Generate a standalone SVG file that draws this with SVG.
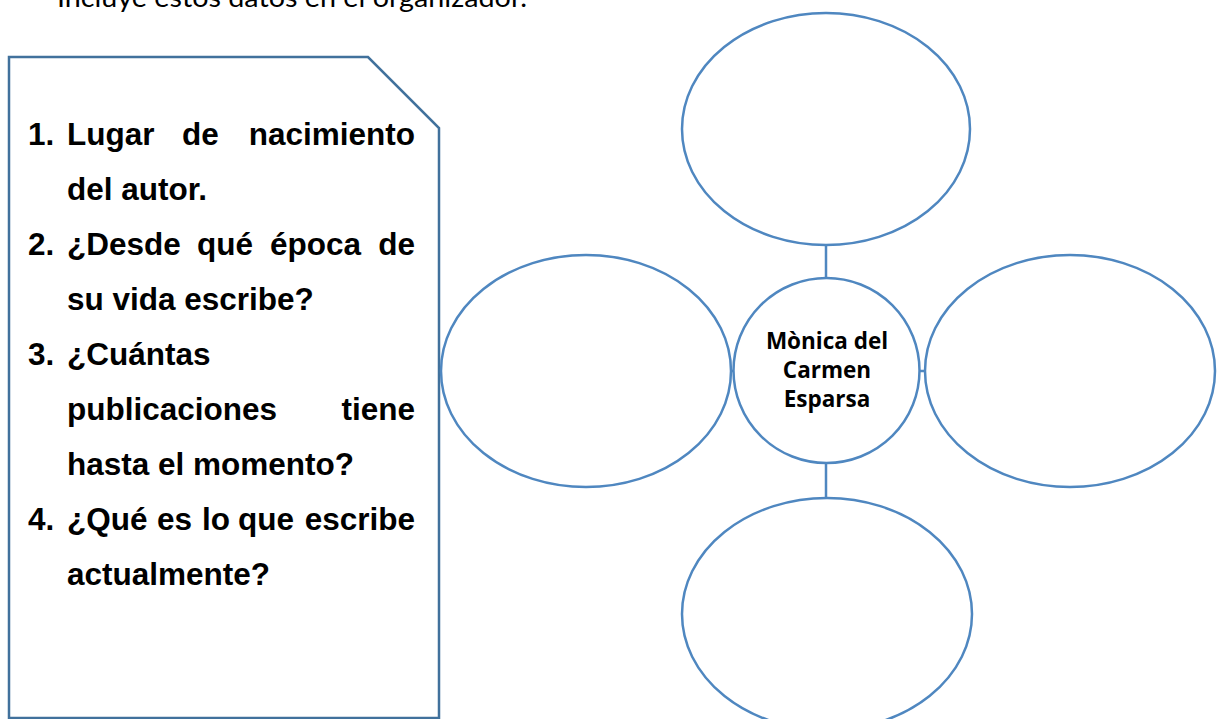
<svg xmlns="http://www.w3.org/2000/svg" width="1221" height="719" viewBox="0 0 1221 719">
<style>
.q{font-family:"Liberation Sans",Arial,sans-serif;font-weight:bold;font-size:31.5px;fill:#000}
.e{fill:#fff;stroke:#4F87C0;stroke-width:2.5}
.c{stroke:#4F87C0;stroke-width:2.5;fill:none}
.lbl{font-family:"Open Sans",sans-serif;font-weight:bold;font-size:22.5px;fill:#000}
</style>
<rect width="1221" height="719" fill="#fff"/>
<text x="57" y="7" font-family="Lato, sans-serif" font-size="26" textLength="470" lengthAdjust="spacingAndGlyphs" fill="#000">Incluye estos datos en el organizador.</text>
<g id="question-box">
<path d="M9,57 L368,57 L439,128 L439,718 L9,718 Z" fill="#fff" stroke="#41719C" stroke-width="2.5"/>
<text class="q"><tspan x="28" y="145">1.</tspan><tspan x="67" y="145">Lugar</tspan><tspan x="182" y="145">de</tspan><tspan x="415" y="145" text-anchor="end">nacimiento</tspan></text>
<text class="q" x="67" y="200">del autor.</text>
<text class="q"><tspan x="28" y="255">2.</tspan><tspan x="67" y="255">¿Desde</tspan><tspan x="197" y="255">qué</tspan><tspan x="270" y="255">época</tspan><tspan x="415" y="255" text-anchor="end">de</tspan></text>
<text class="q" x="67" y="310">su vida escribe?</text>
<text class="q"><tspan x="28" y="365">3.</tspan><tspan x="67" y="365">¿Cuántas</tspan></text>
<text class="q"><tspan x="67" y="420">publicaciones</tspan><tspan x="415" y="420" text-anchor="end">tiene</tspan></text>
<text class="q" x="67" y="475">hasta el momento?</text>
<text class="q"><tspan x="28" y="530">4.</tspan><tspan x="67" y="530">¿Qué</tspan><tspan x="157" y="530">es</tspan><tspan x="202" y="530">lo</tspan><tspan x="238" y="530">que</tspan><tspan x="415" y="530" text-anchor="end">escribe</tspan></text>
<text class="q" x="67" y="585">actualmente?</text>
</g>
<g id="connectors">
<line class="c" x1="826" y1="245" x2="826" y2="278"/>
<line class="c" x1="826" y1="463" x2="826" y2="498"/>
<line class="c" x1="731" y1="371" x2="733" y2="371"/>
<line class="c" x1="920" y1="371" x2="924" y2="371"/>
</g>
<g id="node-top"><ellipse class="e" cx="826" cy="129" rx="144" ry="116"/></g>
<g id="node-left"><ellipse class="e" cx="586" cy="371" rx="145" ry="116"/></g>
<g id="node-right"><ellipse class="e" cx="1070" cy="371" rx="145" ry="116"/></g>
<g id="node-bottom"><ellipse class="e" cx="827" cy="614" rx="145" ry="116"/></g>
<g id="node-center">
<ellipse class="e" cx="826.5" cy="370.5" rx="93" ry="92.5"/>
<text class="lbl" text-anchor="middle"><tspan x="827" y="349">Mònica del</tspan><tspan x="827" y="378">Carmen</tspan><tspan x="827" y="407">Esparsa</tspan></text>
</g>
</svg>
